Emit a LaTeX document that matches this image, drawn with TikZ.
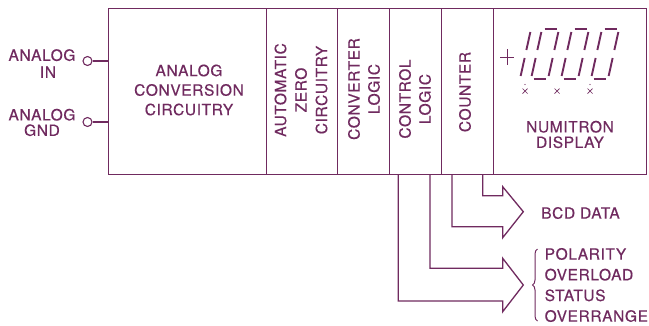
\documentclass[tikz,border=0pt]{standalone}
\usepackage{fontspec}
\setmainfont{TeX Gyre Heros}[LetterSpace=4,FakeBold=0.45]
\usetikzlibrary{decorations.pathreplacing}
\definecolor{ink}{RGB}{112,42,95}
\newcommand\dseg[5]{\draw[seg] ({#1+#2+0.22*#3},{79-#3}) -- ({#1+#4+0.22*#5},{79-#5});}
\newcommand\fulldigit[1]{%
  \dseg{#1}{2.5}{50}{14.5}{50}\dseg{#1}{2.5}{0}{14.5}{0}%
  \dseg{#1}{0}{29}{0}{47}\dseg{#1}{17}{29}{17}{47}%
  \dseg{#1}{0}{3}{0}{21}\dseg{#1}{17}{3}{17}{21}}
\begin{document}
\begin{tikzpicture}[x=1pt,y=-1pt,
  every node/.style={text=ink},
  blk/.style={draw=ink, line width=1.3pt, minimum height=166pt, inner sep=0pt, anchor=north west},
  lbl/.style={font=\fontsize{15.5}{19.5}\selectfont, align=center, inner sep=0pt},
  term/.style={circle, draw=ink, line width=1.1pt, minimum size=9pt, inner sep=0pt},
  wire/.style={draw=ink, line width=1.3pt},
  hollow/.style={draw=ink, line width=1.3pt, line join=miter},
  seg/.style={draw=ink, line width=1.9pt},
  thin/.style={draw=ink, line width=0.9pt}]
\useasboundingbox[fill=white] (0,0) rectangle (649,325);
% blocks
\node[blk, minimum width=158pt] (conv) at (108,8) {};
\node[blk, minimum width=71pt] (azc) at (266,8) {};
\node[blk, minimum width=52pt] (cvl) at (337,8) {};
\node[blk, minimum width=52pt] (ctl) at (389,8) {};
\node[blk, minimum width=52pt] (cnt) at (441,8) {};
\node[blk, minimum width=153pt] (disp) at (493,8) {};
% block texts
\node[lbl] (convt) at (189,90) {ANALOG\\CONVERSION\\CIRCUITRY};
\node[lbl, rotate=90, font=\fontsize{15.5}{20.5}\selectfont] (azct) at (301,90) {AUTOMATIC\\ZERO\\CIRCUITRY};
\node[lbl, rotate=90, font=\fontsize{15.5}{20}\selectfont] (cvlt) at (364,89) {CONVERTER\\LOGIC};
\node[lbl, rotate=90, font=\fontsize{15.5}{20}\selectfont] (ctlt) at (415,99) {CONTROL\\LOGIC};
\node[lbl, rotate=90] (cntt) at (465,92) {COUNTER};
\node[lbl, font=\fontsize{15.5}{15.5}\selectfont] (dispt) at (570,134.5) {NUMITRON\\DISPLAY};
% inputs
\node[lbl, font=\fontsize{15.5}{17}\selectfont] (ain) at (42,63.5) {ANALOG\\\hspace*{12pt}IN};
\node[lbl, font=\fontsize{15.5}{15.5}\selectfont] (agnd) at (42,122.5) {ANALOG\\GND};
\node[term] (tin) at (87.5,61) {};
\node[term] (tgnd) at (87.5,122) {};
\draw[wire] (tin.east) -- (tin.east -| conv.west);
\draw[wire] (tgnd.east) -- (tgnd.east -| conv.west);
% display digits
\draw[thin] (500,57) -- (514,57) (507,49) -- (507,65);
\dseg{503}{17}{29}{17}{47}\dseg{503}{17}{3}{17}{21}
\fulldigit{531}\fulldigit{561}\fulldigit{591}
\foreach \cx in {525,557,590}{
  \draw[thin, line width=0.7pt] (\cx-2.5,88.5) -- (\cx+2.5,93.5) (\cx-2.5,93.5) -- (\cx+2.5,88.5);}
\fill[ink] (525,84.5) circle (0.6pt) (590,84.5) circle (0.6pt);
% output arrows
\coordinate (c1) at (452,174);
\coordinate (c2) at (482.7,174);
\coordinate (c3) at (398.3,174);
\coordinate (c4) at (430,174);
\draw[hollow] (c1) |- (502.7,226.7) -- (502.7,237.7) -- (523.3,211.7) -- (502.7,186.7) -- (502.7,195.7) -| (c2);
\draw[hollow] (c3) |- (502.7,301) -- (502.7,311.7) -- (523.3,285) -- (502.7,258.3) -- (502.7,268.3) -| (c4);
% output labels
\node[lbl, anchor=west] (bcd) at (541,213) {BCD DATA};
\node[lbl, anchor=west, align=left, font=\fontsize{15.5}{20.7}\selectfont] (stat) at (544.5,285) {POLARITY\\OVERLOAD\\STATUS\\OVERRANGE};
\draw[draw=ink, line width=1pt, decorate, decoration={brace, amplitude=5pt}] (537.5,321) -- (537.5,249);
\end{tikzpicture}
\end{document}
